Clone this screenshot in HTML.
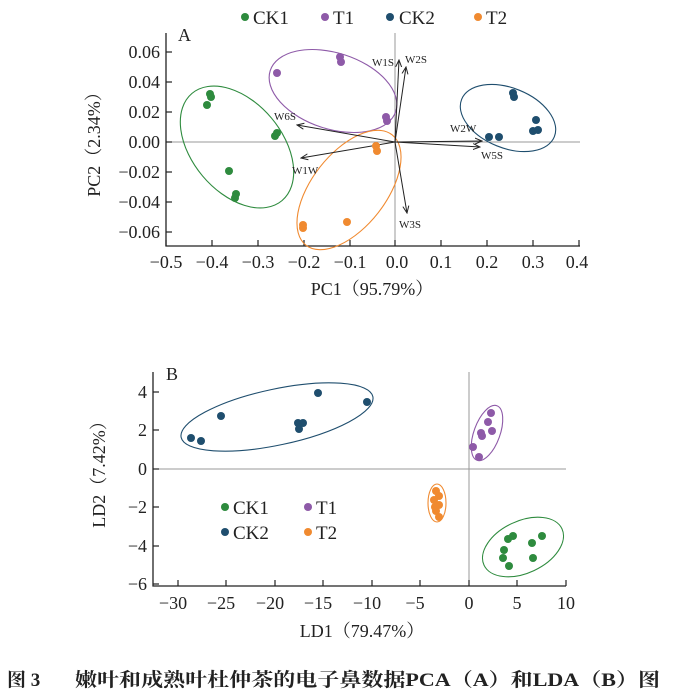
<!DOCTYPE html>
<html><head><meta charset="utf-8"><style>
html,body{margin:0;padding:0;background:#fff;}
svg{display:block;}
text{font-family:"Liberation Serif","Noto Serif CJK SC",serif;fill:#222;}
circle{r:4px;}
</style></head><body>
<svg width="685" height="696" viewBox="0 0 685 696" xmlns="http://www.w3.org/2000/svg">
<defs><marker id="ar" markerWidth="8" markerHeight="8" refX="7" refY="4" orient="auto" markerUnits="userSpaceOnUse"><path d="M0,1 L7,4 L0,7" fill="none" stroke="#222" stroke-width="1"/></marker></defs>
<!-- Panel A -->
<g font-size="19">
<circle cx="245" cy="17" r="4" fill="#2e8b3e"/><text x="253" y="24">CK1</text>
<circle cx="325" cy="17" r="4" fill="#8e5aa8"/><text x="333" y="24">T1</text>
<circle cx="390" cy="17" r="4" fill="#1f4e6e"/><text x="399" y="24">CK2</text>
<circle cx="478" cy="17" r="4" fill="#f08a30"/><text x="486" y="24">T2</text>
</g>
<text x="178" y="41" font-size="18">A</text>
<line x1="166" y1="142" x2="580" y2="142" stroke="#999" stroke-width="1"/>
<line x1="395" y1="33" x2="395" y2="246" stroke="#999" stroke-width="1"/>
<path d="M166,33 V246 H580" fill="none" stroke="#222" stroke-width="1.3"/>
<g stroke="#222" stroke-width="1.2">
<line x1="166" y1="246" x2="166" y2="240"/><line x1="212" y1="246" x2="212" y2="240"/><line x1="258" y1="246" x2="258" y2="240"/><line x1="304" y1="246" x2="304" y2="240"/><line x1="350" y1="246" x2="350" y2="240"/><line x1="395" y1="246" x2="395" y2="240"/><line x1="441" y1="246" x2="441" y2="240"/><line x1="487" y1="246" x2="487" y2="240"/><line x1="533" y1="246" x2="533" y2="240"/><line x1="579" y1="246" x2="579" y2="240"/>
<line x1="166" y1="52" x2="172" y2="52"/><line x1="166" y1="82" x2="172" y2="82"/><line x1="166" y1="112" x2="172" y2="112"/><line x1="166" y1="142" x2="172" y2="142"/><line x1="166" y1="172" x2="172" y2="172"/><line x1="166" y1="202" x2="172" y2="202"/><line x1="166" y1="232" x2="172" y2="232"/>
</g>
<g font-size="18" text-anchor="middle">
<text x="166" y="268">−0.5</text><text x="212" y="268">−0.4</text><text x="258" y="268">−0.3</text><text x="304" y="268">−0.2</text><text x="350" y="268">−0.1</text><text x="397" y="268">0.0</text><text x="441" y="268">0.1</text><text x="487" y="268">0.2</text><text x="533" y="268">0.3</text><text x="577" y="268">0.4</text>
</g>
<g font-size="18" text-anchor="end">
<text x="160" y="58">0.06</text><text x="160" y="88">0.04</text><text x="160" y="118">0.02</text><text x="160" y="148">0.00</text><text x="160" y="178">−0.02</text><text x="160" y="208">−0.04</text><text x="160" y="238">−0.06</text>
</g>
<text x="372" y="295" font-size="18" text-anchor="middle">PC1（95.79%）</text>
<text transform="translate(100,140) rotate(-90)" font-size="18" text-anchor="middle">PC2（2.34%）</text>
<g fill="none" stroke-width="1.1">
<ellipse cx="237" cy="147" rx="70" ry="45" transform="rotate(50 237 147)" stroke="#2e8b3e"/>
<ellipse cx="333" cy="91" rx="66" ry="38" transform="rotate(18 333 91)" stroke="#8e5aa8"/>
<ellipse cx="508" cy="118" rx="50" ry="30" transform="rotate(22 508 118)" stroke="#1f4e6e"/>
<ellipse cx="349" cy="190" rx="70" ry="37" transform="rotate(-52 349 190)" stroke="#f08a30"/>
</g>
<g stroke="#222" stroke-width="1" marker-end="url(#ar)">
<line x1="395" y1="142" x2="399" y2="60"/><line x1="395" y1="142" x2="406" y2="67"/>
<line x1="395" y1="142" x2="297" y2="125"/><line x1="395" y1="142" x2="301" y2="158"/>
<line x1="395" y1="142" x2="482" y2="141"/><line x1="395" y1="142" x2="480" y2="147"/>
<line x1="395" y1="142" x2="407" y2="213"/>
</g>
<g font-size="11">
<text x="372" y="66">W1S</text><text x="405" y="63">W2S</text><text x="274" y="120">W6S</text><text x="292" y="174">W1W</text><text x="450" y="132">W2W</text><text x="481" y="159">W5S</text><text x="399" y="228">W3S</text>
</g>
<g fill="#2e8b3e"><circle cx="210" cy="94" r="4"/><circle cx="211" cy="97" r="4"/><circle cx="207" cy="105" r="4"/><circle cx="275" cy="136" r="4"/><circle cx="277" cy="133" r="4"/><circle cx="229" cy="171" r="4"/><circle cx="236" cy="194" r="4"/><circle cx="235" cy="198" r="4"/></g>
<g fill="#8e5aa8"><circle cx="277" cy="73" r="4"/><circle cx="340" cy="57" r="4"/><circle cx="341" cy="62" r="4"/><circle cx="386" cy="117" r="4"/><circle cx="387" cy="121" r="4"/></g>
<g fill="#1f4e6e"><circle cx="513" cy="93" r="4"/><circle cx="514" cy="97" r="4"/><circle cx="536" cy="120" r="4"/><circle cx="533" cy="131" r="4"/><circle cx="538" cy="130" r="4"/><circle cx="489" cy="137" r="4"/><circle cx="499" cy="137" r="4"/></g>
<g fill="#f08a30"><circle cx="376" cy="146" r="4"/><circle cx="377" cy="151" r="4"/><circle cx="303" cy="225" r="4"/><circle cx="303" cy="228" r="4"/><circle cx="347" cy="222" r="4"/></g>

<!-- Panel B -->
<text x="166" y="380" font-size="18">B</text>
<line x1="153" y1="469" x2="566" y2="469" stroke="#999" stroke-width="1"/>
<line x1="469" y1="372" x2="469" y2="586" stroke="#999" stroke-width="1"/>
<path d="M153,372 V586 H566" fill="none" stroke="#222" stroke-width="1.3"/>
<g stroke="#222" stroke-width="1.2">
<line x1="178" y1="586" x2="178" y2="580"/><line x1="226" y1="586" x2="226" y2="580"/><line x1="275" y1="586" x2="275" y2="580"/><line x1="323" y1="586" x2="323" y2="580"/><line x1="372" y1="586" x2="372" y2="580"/><line x1="420" y1="586" x2="420" y2="580"/><line x1="469" y1="586" x2="469" y2="580"/><line x1="517" y1="586" x2="517" y2="580"/><line x1="566" y1="586" x2="566" y2="580"/>
<line x1="153" y1="392" x2="159" y2="392"/><line x1="153" y1="430" x2="159" y2="430"/><line x1="153" y1="469" x2="159" y2="469"/><line x1="153" y1="507" x2="159" y2="507"/><line x1="153" y1="546" x2="159" y2="546"/><line x1="153" y1="584" x2="159" y2="584"/>
</g>
<g font-size="18" text-anchor="middle">
<text x="173" y="609">−30</text><text x="221" y="609">−25</text><text x="270" y="609">−20</text><text x="318" y="609">−15</text><text x="367" y="609">−10</text><text x="415" y="609">−5</text><text x="469" y="609">0</text><text x="517" y="609">5</text><text x="566" y="609">10</text>
</g>
<g font-size="18" text-anchor="end">
<text x="147" y="398">4</text><text x="147" y="436">2</text><text x="147" y="475">0</text><text x="147" y="513">−2</text><text x="147" y="552">−4</text><text x="147" y="590">−6</text>
</g>
<text x="362" y="637" font-size="18" text-anchor="middle">LD1（79.47%）</text>
<text transform="translate(105,470) rotate(-90)" font-size="18" text-anchor="middle">LD2（7.42%）</text>
<g fill="none" stroke-width="1.1">
<ellipse cx="277" cy="417" rx="98" ry="28" transform="rotate(-12 277 417)" stroke="#1f4e6e"/>
<ellipse cx="487" cy="433" rx="29" ry="13" transform="rotate(-70 487 433)" stroke="#8e5aa8"/>
<ellipse cx="437" cy="503" rx="9" ry="19" stroke="#f08a30"/>
<ellipse cx="523" cy="547" rx="43" ry="26" transform="rotate(-25 523 547)" stroke="#2e8b3e"/>
</g>
<g fill="#1f4e6e"><circle cx="191" cy="438" r="4"/><circle cx="201" cy="441" r="4"/><circle cx="221" cy="416" r="4"/><circle cx="318" cy="393" r="4"/><circle cx="367" cy="402" r="4"/><circle cx="298" cy="423" r="4"/><circle cx="303" cy="423" r="4"/><circle cx="299" cy="429" r="4"/></g>
<g fill="#8e5aa8"><circle cx="473" cy="447" r="4"/><circle cx="479" cy="457" r="4"/><circle cx="481" cy="433" r="4"/><circle cx="482" cy="436" r="4"/><circle cx="488" cy="422" r="4"/><circle cx="491" cy="413" r="4"/><circle cx="492" cy="431" r="4"/></g>
<g fill="#f08a30"><circle cx="436" cy="491" r="4"/><circle cx="439" cy="496" r="4"/><circle cx="434" cy="500" r="4"/><circle cx="439" cy="505" r="4"/><circle cx="436" cy="511" r="4"/><circle cx="439" cy="517" r="4"/><circle cx="435" cy="507" r="4"/></g>
<g fill="#2e8b3e"><circle cx="508" cy="539" r="4"/><circle cx="513" cy="536" r="4"/><circle cx="532" cy="543" r="4"/><circle cx="542" cy="536" r="4"/><circle cx="504" cy="550" r="4"/><circle cx="503" cy="558" r="4"/><circle cx="509" cy="566" r="4"/><circle cx="533" cy="558" r="4"/></g>
<g font-size="19">
<circle cx="225" cy="507" r="4" fill="#2e8b3e"/><text x="233" y="514">CK1</text>
<circle cx="308" cy="507" r="4" fill="#8e5aa8"/><text x="316" y="514">T1</text>
<circle cx="225" cy="532" r="4" fill="#1f4e6e"/><text x="233" y="539">CK2</text>
<circle cx="308" cy="532" r="4" fill="#f08a30"/><text x="316" y="539">T2</text>
</g>
<!-- caption -->
<text x="7" y="686" font-size="19" font-weight="bold">图 3</text>
<text x="75" y="686" font-size="19" font-weight="bold" textLength="585" lengthAdjust="spacingAndGlyphs">嫩叶和成熟叶杜仲茶的电子鼻数据PCA（A）和LDA（B）图</text>
</svg>
</body></html>
